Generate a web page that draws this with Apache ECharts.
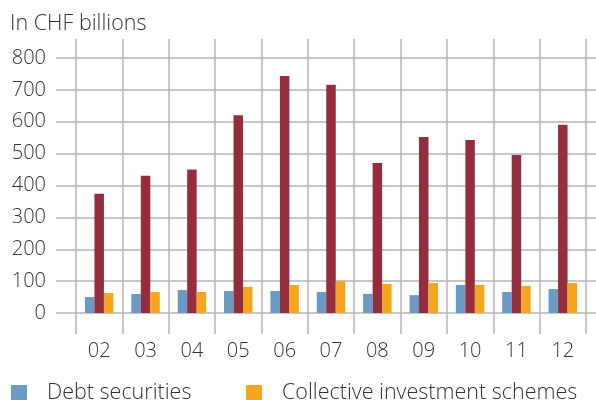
<!DOCTYPE html>
<html>
<head>
<meta charset="utf-8">
<script src="https://cdn.jsdelivr.net/npm/echarts@6/dist/echarts.min.js"></script>
<style>
  html, body { margin: 0; padding: 0; background: #fff; }
  #chart { width: 596px; height: 400px; }
</style>
</head>
<body>
<div id="chart"></div>
<script>
// Year labels (20xx)
const years = ['02', '03', '04', '05', '06', '07', '08', '09', '10', '11', '12'];
// Values in CHF billions
const debtSecurities = [50, 60, 72, 69, 69, 66, 60, 56, 88, 66, 75];
const shares = [374, 431, 450, 621, 744, 716, 471, 552, 543, 496, 591];
const collectiveSchemes = [63, 66, 66, 82, 88, 100, 91, 94, 88, 85, 94];
const yTicks = [0, 100, 200, 300, 400, 500, 600, 700, 800];

const FONT = 'Open Sans';
const FW = 300;
const FS_AXIS = 20;
const FS_TEXT = 21.5;
const TEXT = '#333333';
const GRID_LINE = '#b4b4b4';

const chart = echarts.init(document.getElementById('chart'), null, { renderer: 'canvas' });

const barCommon = {
  type: 'bar',
  xAxisIndex: 0,
  yAxisIndex: 0,
  barWidth: 9.5,
  barGap: '0%',
  animation: false
};

const legendText = { fontFamily: FONT, fontSize: FS_TEXT, fontWeight: FW, color: TEXT, padding: [0, 0, 0, 15] };

chart.setOption({
  animation: false,
  backgroundColor: '#ffffff',
  textStyle: { fontFamily: FONT },
  title: {
    text: 'In CHF billions',
    left: 10,
    top: 13,
    padding: 0,
    textStyle: { fontFamily: FONT, fontSize: FS_TEXT, fontWeight: FW, color: TEXT }
  },
  legend: [
    {
      data: ['Debt securities'],
      left: 11,
      top: 382,
      padding: 0,
      itemWidth: 16,
      itemHeight: 16,
      icon: 'rect',
      selectedMode: false,
      textStyle: legendText
    },
    {
      data: ['Collective investment schemes'],
      left: 246,
      top: 382,
      padding: 0,
      itemWidth: 16,
      itemHeight: 16,
      icon: 'rect',
      selectedMode: false,
      textStyle: legendText
    }
  ],
  grid: [
    // bars + vertical category lines
    { left: 76, right: 10, top: 39, bottom: 66, containLabel: false },
    // horizontal value lines + value labels
    { left: 56, right: 0, top: 58, bottom: 87, containLabel: false }
  ],
  xAxis: [
    {
      gridIndex: 0,
      type: 'category',
      data: years,
      boundaryGap: true,
      axisLine: { show: false, onZero: false },
      axisTick: { show: false },
      axisLabel: { margin: 7, fontFamily: FONT, fontSize: FS_AXIS, fontWeight: FW, color: TEXT },
      splitLine: { show: true, lineStyle: { color: GRID_LINE, width: 1.5 } },
      z: 1
    },
    {
      gridIndex: 1,
      type: 'value',
      min: 0,
      max: 1,
      show: false
    }
  ],
  yAxis: [
    {
      gridIndex: 0,
      type: 'value',
      min: -66,
      max: 860,
      show: false,
      splitLine: { show: false }
    },
    {
      gridIndex: 1,
      type: 'value',
      min: yTicks[0],
      max: yTicks[yTicks.length - 1],
      interval: 100,
      axisLine: { show: false },
      axisTick: { show: false },
      axisLabel: { margin: 10, fontFamily: FONT, fontSize: FS_AXIS, fontWeight: FW, color: TEXT },
      splitLine: { show: true, lineStyle: { color: GRID_LINE, width: 1.5 } }
    }
  ],
  series: [
    Object.assign({}, barCommon, {
      name: 'Debt securities',
      data: debtSecurities,
      itemStyle: { color: '#6b9bc3' },
      z: 3
    }),
    Object.assign({}, barCommon, {
      name: 'Shares',
      data: shares,
      itemStyle: { color: '#962d3d' },
      z: 3
    }),
    Object.assign({}, barCommon, {
      name: 'Collective investment schemes',
      data: collectiveSchemes,
      itemStyle: { color: '#f6a51e' },
      z: 3
    }),
    {
      type: 'line',
      xAxisIndex: 1,
      yAxisIndex: 1,
      data: [],
      silent: true
    }
  ]
});
</script>
</body>
</html>
